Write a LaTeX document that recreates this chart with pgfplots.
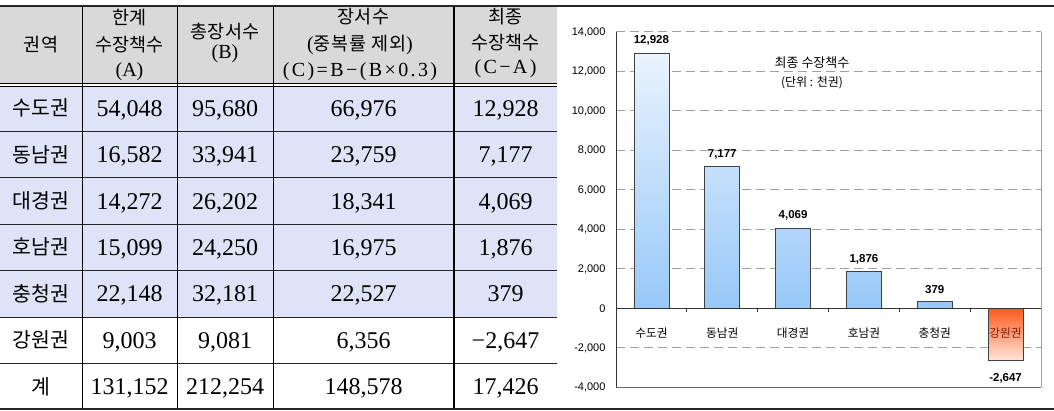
\documentclass[border=0pt]{standalone}
\usepackage{pgfplots}
\pgfplotsset{compat=1.18}
\usepackage{pgfplotstable}
\usepackage{fontspec}
\setmainfont{Liberation Serif}
\newfontfamily\kr{Noto Sans CJK KR}
\newfontfamily\lsans{Liberation Sans}
\definecolor{hdr}{HTML}{D9D9D9}
\definecolor{rowc}{HTML}{DEE3F7}
\definecolor{bt}{HTML}{EAF3FE}
\definecolor{bb}{HTML}{97C8F8}
\definecolor{rt}{HTML}{FF5A1E}
\definecolor{rb}{HTML}{FFE6DA}
\definecolor{gridc}{HTML}{A0A0A0}
\definecolor{kred}{HTML}{8B1A0A}

\newcommand\HK[1]{{\kr\fontsize{18.5}{20}\selectfont #1}}
\newcommand\HS[1]{{\fontsize{20}{22}\selectfont #1}}
\newcommand\BK[1]{{\kr\fontsize{20.5}{22}\selectfont #1}}
\newcommand\BN[1]{{\fontsize{24}{26}\selectfont #1}}
\newcommand\trow[6]{%
  \node[anchor=base, inner sep=0pt] at (41,#1-7.5) {\BK{#2}};
  \node[anchor=base, inner sep=0pt] at (129.5,#1-8) {\BN{#3}};
  \node[anchor=base, inner sep=0pt] at (225,#1-8) {\BN{#4}};
  \node[anchor=base, inner sep=0pt] at (363.5,#1-8) {\BN{#5}};
  \node[anchor=base, inner sep=0pt] at (505.5,#1-8) {\BN{#6}};}

\pgfplotstableread{
x y lab
0 12928 12,928
1 7177 7,177
2 4069 4,069
3 1876 1,876
4 379 379
}\bluedata
\pgfplotstableread{
x y lab
5 -2647 -2,647
}\reddata
\pgfplotstableread{
x y lab
0 -1268 수도권
1 -1268 동남권
2 -1268 대경권
3 -1268 호남권
4 -1268 충청권
}\catdata
\pgfplotstableread{
x y lab
5 -1268 강원권
}\catred

\begin{document}
\begin{tikzpicture}[x=1pt,y=1pt]
\useasboundingbox (0,0) rectangle (1054,411);
% table fills
\fill[hdr] (0,327) rectangle (557,405);
\fill[rowc] (0,93.9) rectangle (557,325);
% header
\tikzset{hd/.style={anchor=center, inner sep=0pt}}
\node[hd] at (41,366) {\HK{권역}};
\node[hd] at (129.5,393) {\HK{한계}};
\node[hd] at (129.5,366) {\HK{수장책수}};
\node[hd] at (129.5,339) {\HS{(A)}};
\node[hd] at (225,379) {\HK{총장서수}};
\node[hd] at (225,357) {\HS{(B)}};
\node[hd] at (363.5,394) {\HK{장서수}};
\node[hd] at (360,366) {\HS{(}\HK{\addfontfeature{LetterSpace=4}중복률 제외}\HS{)}};
\node[hd] at (360,339) {\HS{\addfontfeature{LetterSpace=12}(C)=B−(B×0.3)}};
\node[hd] at (505.5,394) {\HK{최종}};
\node[hd] at (505.5,368) {\HK{수장책수}};
\node[hd] at (505.5,342) {\HS{\addfontfeature{LetterSpace=12}(C−A)}};
% body
\trow{302.8}{수도권}{54,048}{95,680}{66,976}{12,928}
\trow{256.4}{동남권}{16,582}{33,941}{23,759}{7,177}
\trow{209.9}{대경권}{14,272}{26,202}{18,341}{4,069}
\trow{163.5}{호남권}{15,099}{24,250}{16,975}{1,876}
\trow{117.1}{충청권}{22,148}{32,181}{22,527}{379}
\trow{70.6}{강원권}{9,003}{9,081}{6,356}{−2,647}
\trow{24.2}{계}{131,152}{212,254}{148,578}{17,426}
% table lines
\draw[line width=0.8pt] (0,327.2) -- (557,327.2);
\draw[line width=0.8pt] (0,324.8) -- (557,324.8);
\foreach \yy in {279.6,233.1,186.7,140.3,93.9,47.4}
  \draw[line width=0.8pt, black!85] (0,\yy) -- (557,\yy);
\foreach \xx in {82,177,273}
  \draw[line width=0.8pt] (\xx,2) -- (\xx,405);
\draw[line width=1.6pt] (454,2) -- (454,405);
\draw[line width=2pt, black!85] (0,405) -- (1054,405);
\draw[line width=1.4pt, black!85] (0,2) -- (1054,2);
% chart
\begin{axis}[
  at={(616pt,23.5pt)}, anchor=south west,
  scale only axis, width=425pt, height=355.5pt,
  xmin=-0.5, xmax=5.5, ymin=-4000, ymax=14000,
  axis x line=middle, axis y line=left,
  axis line style={-, black!80, line width=0.8pt},
  xtick={0.5,1.5,2.5,3.5,4.5}, xticklabels={},
  xtick align=outside,
  major tick length=4pt,
  x tick style={black!80, line width=0.8pt},
  scaled y ticks=false,
  ytick={-4000,-2000,0,2000,4000,6000,8000,10000,12000,14000},
  yticklabels={{-4,000},{-2,000},0,{2,000},{4,000},{6,000},{8,000},{10,000},{12,000},{14,000}},
  y tick style={draw=none},
  yticklabel style={font=\lsans\fontsize{11}{12}\selectfont, xshift=-5pt},
  ymajorgrids,
  grid style={gridc, line width=1pt, dash pattern=on 9pt off 5pt},
  clip=false,
]
\addplot[ybar, bar width=35pt, bar shift=0pt, draw=black!75, line width=0.8pt,
  top color=bt, bottom color=bb] table[x=x,y=y]{\bluedata};
\addplot[ybar, bar width=35pt, bar shift=0pt, draw=black!75, line width=0.8pt,
  top color=rt, bottom color=rb] table[x=x,y=y]{\reddata};
\addplot[draw=none, nodes near coords, point meta=explicit symbolic,
  nodes near coords style={anchor=south, text=black, yshift=4pt,
    font=\lsans\bfseries\fontsize{11.5}{12}\selectfont}]
  table[x=x,y=y,meta=lab]{\bluedata};
\addplot[draw=none, nodes near coords, point meta=explicit symbolic,
  nodes near coords style={anchor=north, text=black, yshift=-9pt,
    font=\lsans\bfseries\fontsize{11.5}{12}\selectfont}]
  table[x=x,y=y,meta=lab]{\reddata};
\addplot[draw=none, nodes near coords, point meta=explicit symbolic,
  nodes near coords style={anchor=center, text=black,
    font=\kr\fontsize{11.7}{12}\selectfont}]
  table[x=x,y=y,meta=lab]{\catdata};
\addplot[draw=none, nodes near coords, point meta=explicit symbolic,
  nodes near coords style={anchor=center, text=kred,
    font=\kr\fontsize{11.7}{12}\selectfont}]
  table[x=x,y=y,meta=lab]{\catred};
\node[font=\kr\fontsize{13}{14}\selectfont] at (axis cs:2.267,12430) {최종 수장책수};
\node[font=\kr\fontsize{12}{13}\selectfont] at (axis cs:2.267,11410) {(단위 : 천권)};
\draw[gridc, line width=1pt] (rel axis cs:1,0) -- (rel axis cs:1,1);
\draw[black!60, line width=1pt] (rel axis cs:0,0) -- (rel axis cs:1,0);
\draw[black!80, line width=0.8pt] (rel axis cs:0,0) -- (rel axis cs:0,1);
\draw[black!80, line width=0.8pt] (axis cs:-0.5,0) -- (axis cs:5.5,0);
\end{axis}
\end{tikzpicture}
\end{document}
